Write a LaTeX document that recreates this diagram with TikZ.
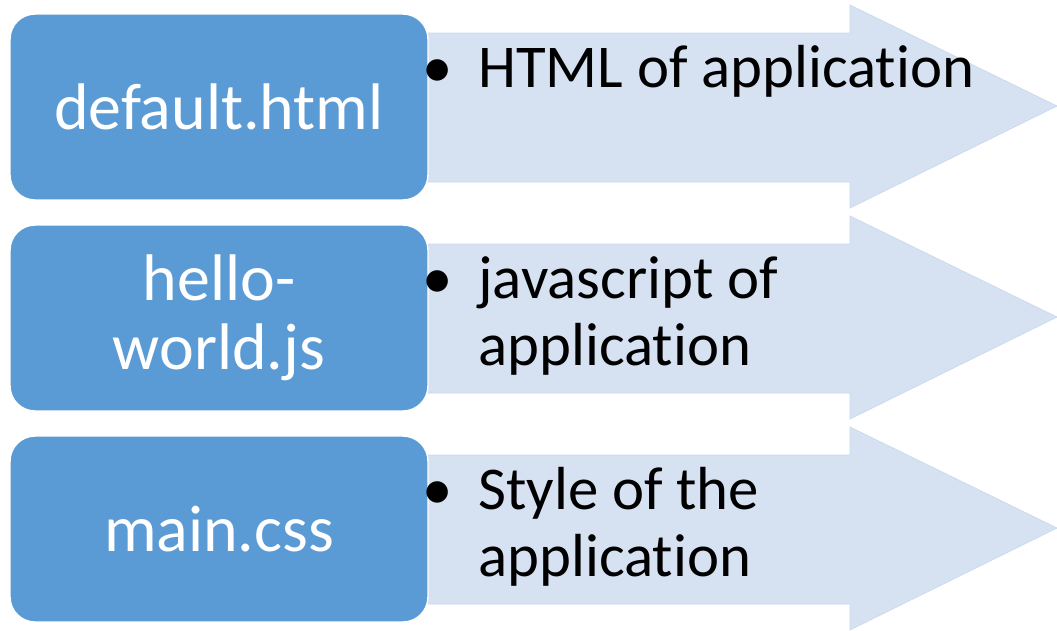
\documentclass[tikz,border=0pt]{standalone}
\usepackage{fontspec}
\setmainfont{Carlito}[Ligatures=NoCommon]
\definecolor{boxblue}{RGB}{91,155,213}
\definecolor{arrowblue}{RGB}{214,225,241}

\begin{document}
\begin{tikzpicture}[x=0.02cm,y=-0.02cm]
  \tikzset{filebox/.style = {shape=rectangle,rounded corners=0.5cm,draw=white,line width=0.8pt,fill=boxblue,text=white,minimum width=8.36cm,minimum height=3.72cm,inner sep=0pt,align=center,font=\fontsize{37.5}{39}\selectfont}}
  \tikzset{note/.style = {anchor=base west,align=left,inner sep=0pt,font=\fontsize{34.6}{38}\selectfont}}
  \tikzset{bigarrow/.style = {fill=arrowblue,draw=arrowblue!90!boxblue,line width=0.4pt}}
  \useasboundingbox (0,0) rectangle (1057,630);

    \foreach \o in {0,211,422}
    \draw[bigarrow] (425,33+\o) -- (850,33+\o) -- (850,5+\o) -- (1057,106+\o) -- (850,208+\o) -- (850,182+\o) -- (425,182+\o) -- cycle;

	\node[filebox] (default) at (219,107) {default.html};
	\node[filebox] (hello) at (219,318) {hello-\\world.js};
	\node[filebox] (maincss) at (219,529) {main.css};

    \foreach \n/\y in {b1/87,b2/298,b3/509}
    \node[note,anchor=base] (\n) at (438,\y) {\textbullet};

	% base of a two-line note is its last line
	\node[note] (html) at (478,87) {HTML of application};
	\node[note] (js) at (478,365) {javascript of\\application};
	\node[note] (css) at (478,576) {Style of the\\application};
   
\end{tikzpicture}
\end{document}
